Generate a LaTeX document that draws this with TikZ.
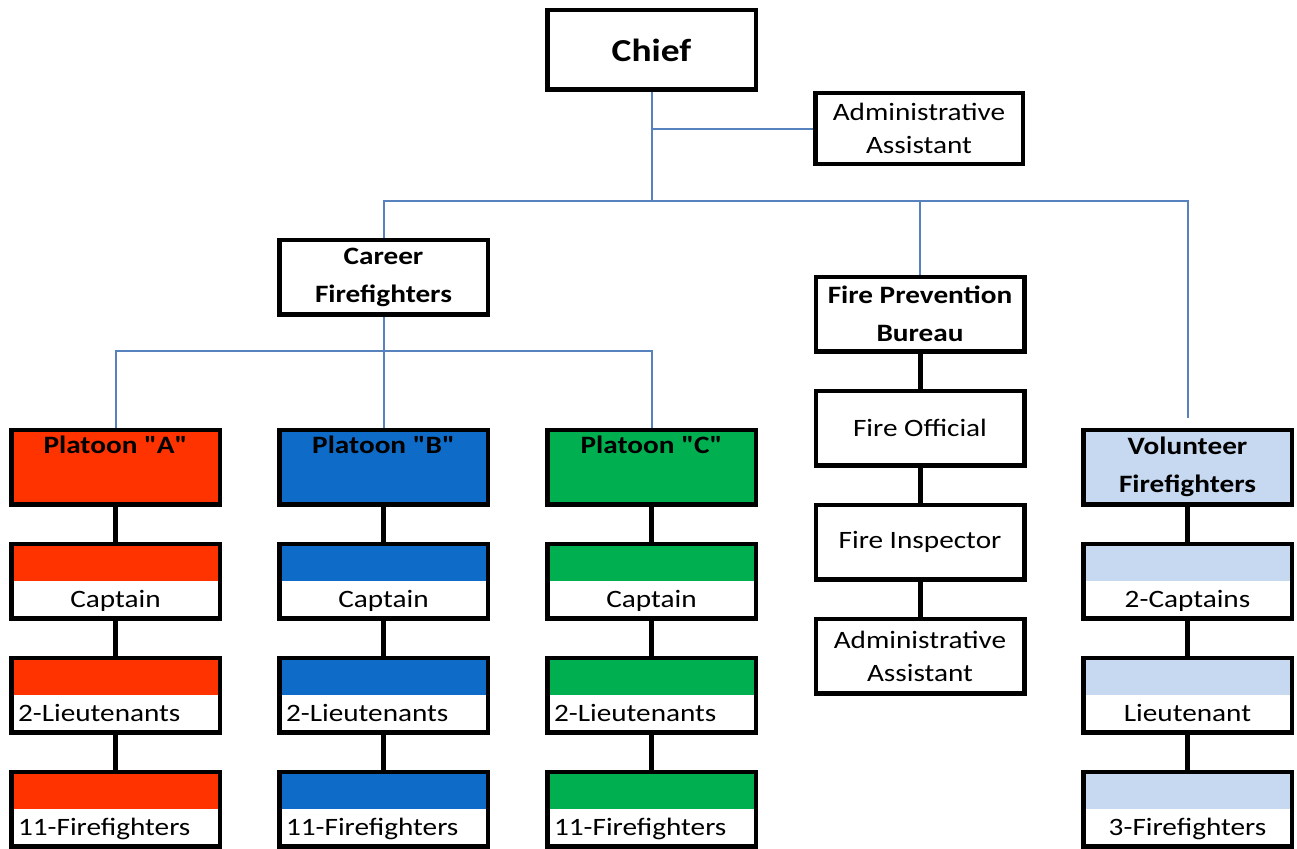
\documentclass[tikz,border=0pt]{standalone}
\usepackage{fontspec}
\setmainfont{Carlito}[FakeStretch=1.17,Ligatures=TeXOff]
\usepackage{xcolor}
\usetikzlibrary{positioning}

\definecolor{platA}{RGB}{255,51,0}
\definecolor{platB}{RGB}{14,108,200}
\definecolor{platC}{RGB}{0,176,80}
\definecolor{volbg}{RGB}{198,217,241}
\definecolor{linkblue}{RGB}{88,130,190}

\tikzset{
	box/.style={draw=black,line width=4.5pt,fill=white,minimum width=208.5pt,minimum height=74.5pt,
		inner sep=2pt,align=center,font=\fontsize{25}{33}\selectfont},
	boldbox/.style={box,font=\fontsize{25}{38}\selectfont\bfseries},
	band/.style={box,path picture={\fill[#1] (path picture bounding box.north west) rectangle (path picture bounding box.east);},
		text height=52pt,text depth=0pt},
	lefttext/.style={inner xsep=6.5pt,text width=195pt,align=left},
	toptext/.style={text height=14pt,text depth=42pt},
	link/.style={draw=linkblue,line width=2pt},
	stem/.style={draw=black,line width=5pt}
}

\begin{document}
\begin{tikzpicture}[x=1pt,y=-1pt,node distance=35pt]
	\useasboundingbox (0,0) rectangle (1297,848);
	% top of the chart
	\node[boldbox,minimum height=79.5pt,font=\fontsize{32}{38}\selectfont\bfseries] (chief) at (651.5,50) {Chief};
	\node[box,minimum width=207.5pt,minimum height=70.5pt] (admintop) at (919,128.5) {Administrative\\Assistant};
	\node[boldbox] (career) at (383.5,277) {Career\\Firefighters};
	\node[boldbox] (fpb) at (920,314) {Fire Prevention\\Bureau};
	\node[boldbox,fill=volbg] (vol) at (1187.5,467) {Volunteer\\Firefighters};
	\coordinate (hub) at (650,201);
	\coordinate (split) at (383.5,351);

	\draw[link] (chief.south) -- (chief.south |- hub);
	\draw[link] (chief.south |- admintop.west) -- (admintop.west);
	\draw[link,shorten >=10pt] (career.north) |- (vol.north |- hub) -- (vol.north);
	\draw[link] (fpb.north |- hub) -- (fpb.north);

	% career platoons
	\foreach \col/\clr/\cx in {A/platA/115.5,B/platB/383.5,C/platC/651.5}{
		\node[boldbox,fill=\clr,toptext] (pl\col) at (\cx,467) {Platoon "\col"};
		\node[band=\clr,below=of pl\col] (cap\col) {Captain};
		\node[band=\clr,lefttext,below=of cap\col] (lt\col) {2-Lieutenants};
		\node[band=\clr,lefttext,below=of lt\col] (ff\col) {11-Firefighters};
		\draw[stem] (pl\col) -- (cap\col) -- (lt\col) -- (ff\col);
	}
	\draw[link] (career.south) -- (split);
	\draw[link] (plA.north) |- (split) -| (plC.north);
	\draw[link] (split) -- (plB.north);

	% fire prevention bureau
	\node[box,below=of fpb] (official) {Fire Official};
	\node[box,below=of official] (inspector) {Fire Inspector};
	\node[box,below=of inspector] (adminlow) {Administrative\\Assistant};
	\draw[stem] (fpb) -- (official) -- (inspector) -- (adminlow);

	% volunteers
	\node[band=volbg,below=of vol] (vcap) {2-Captains};
	\node[band=volbg,below=of vcap] (vlt) {Lieutenant};
	\node[band=volbg,below=of vlt] (vff) {3-Firefighters};
	\draw[stem] (vol) -- (vcap) -- (vlt) -- (vff);
\end{tikzpicture}
\end{document}
